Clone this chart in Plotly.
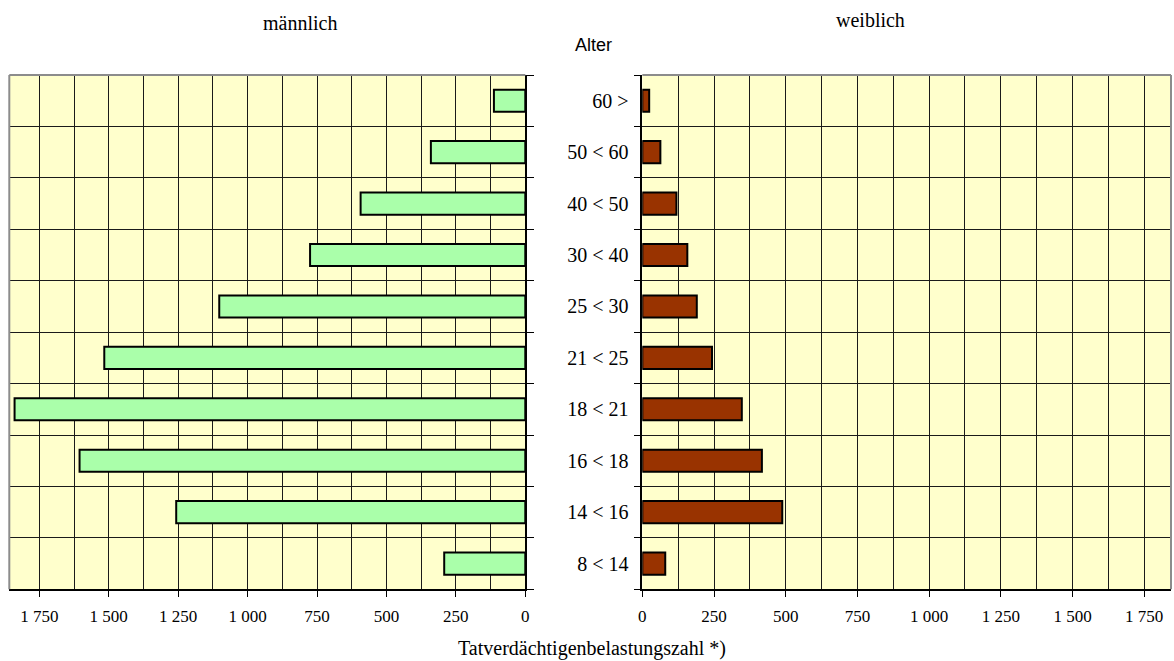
import plotly.graph_objects as go

# Altersgruppen (von unten nach oben)
age_groups = ["8 < 14", "14 < 16", "16 < 18", "18 < 21", "21 < 25",
              "25 < 30", "30 < 40", "40 < 50", "50 < 60", "60 >"]

# Tatverdächtigenbelastungszahl je Altersgruppe
male_values = [292, 1257, 1605, 1839, 1516, 1102, 775, 593, 340, 113]
female_values = [80, 488, 417, 347, 243, 190, 157, 119, 63, 24]

tick_values = [0, 250, 500, 750, 1000, 1250, 1500, 1750]
tick_labels = ["0", "250", "500", "750", "1 000", "1 250", "1 500", "1 750"]
minor_grid_values = [125, 375, 625, 875, 1125, 1375, 1625, 1875]

SERIF = "Liberation Serif, Times New Roman, serif"
SANS = "Liberation Sans, Arial, sans-serif"
BG = "#FFFFCC"
GRID = "#1a1a1a"
BORDER = "#8c8c8c"

W, H = 1174, 661

# pixel geometry of the two panels
left_px = (9.3, 525.3)
right_px = (642.3, 1171.0)
top_px, bottom_px = 75.0, 589.3

fig = go.Figure()

fig.add_trace(go.Bar(
    x=male_values, y=age_groups, orientation="h",
    xaxis="x", yaxis="y", width=0.43,
    marker=dict(color="#AAFFAA", line=dict(color="black", width=2)),
    showlegend=False, hoverinfo="x+y",
))
fig.add_trace(go.Bar(
    x=female_values, y=age_groups, orientation="h",
    xaxis="x2", yaxis="y2", width=0.43,
    marker=dict(color="#993300", line=dict(color="black", width=2)),
    showlegend=False, hoverinfo="x+y",
))

ydom = [1 - bottom_px / H, 1 - top_px / H]

common_x = dict(
    tickmode="array", tickvals=tick_values, ticktext=tick_labels,
    ticks="outside", ticklen=6, tickwidth=1, tickcolor="black",
    ticklabelstandoff=5,
    showgrid=True, gridcolor=GRID, gridwidth=1,
    minor=dict(tickmode="array", tickvals=minor_grid_values,
               showgrid=True, gridcolor=GRID, gridwidth=1, ticks=""),
    showline=True, linecolor="black", linewidth=1.5,
    zeroline=False, automargin=False,
    tickfont=dict(family=SERIF, size=17, color="black"),
    fixedrange=True,
)

fig.update_layout(
    width=W, height=H,
    margin=dict(l=0, r=0, t=0, b=0),
    paper_bgcolor="white", plot_bgcolor=BG,
    bargap=0.57,
    xaxis=dict(common_x, domain=[left_px[0] / W, left_px[1] / W],
               range=[(left_px[1] - left_px[0]) * 250 / 69.43, 0],
               anchor="y"),
    xaxis2=dict(common_x, domain=[right_px[0] / W, right_px[1] / W],
                range=[0, (right_px[1] - right_px[0]) * 250 / 71.7],
                anchor="y2"),
    yaxis=dict(domain=ydom, anchor="x", side="right",
               type="category", categoryorder="array", categoryarray=age_groups,
               range=[-0.5, len(age_groups) - 0.5],
               tickson="boundaries", ticks="outside", ticklen=7,
               tickcolor="black", showticklabels=False,
               showgrid=True, gridcolor=GRID, gridwidth=1,
               showline=True, linecolor="black", linewidth=1.5,
               zeroline=False, automargin=False, fixedrange=True),
    yaxis2=dict(domain=ydom, anchor="x2", side="left",
                type="category", categoryorder="array", categoryarray=age_groups,
                range=[-0.5, len(age_groups) - 0.5],
                tickson="boundaries", ticks="outside", ticklen=7,
                tickcolor="black", showticklabels=True, ticklabelstandoff=8,
                tickfont=dict(family=SERIF, size=20, color="black"),
                showgrid=True, gridcolor=GRID, gridwidth=1,
                showline=True, linecolor="black", linewidth=1.5,
                zeroline=False, automargin=False, fixedrange=True),
)

# grey outer frame lines (top/left of left panel, top/right of right panel)
def frame(x0, y0, x1, y1):
    fig.add_shape(type="line", xref="paper", yref="paper",
                  x0=x0 / W, y0=1 - y0 / H, x1=x1 / W, y1=1 - y1 / H,
                  line=dict(color=BORDER, width=2))

frame(left_px[0], top_px, left_px[1], top_px)
frame(left_px[0], top_px, left_px[0], bottom_px)
frame(right_px[0], top_px, right_px[1], top_px)
frame(right_px[1], top_px, right_px[1], bottom_px)

def text(s, x, y, family, size):
    fig.add_annotation(text=s, x=x / W, y=1 - y / H, xref="paper", yref="paper",
                       showarrow=False, xanchor="center", yanchor="middle",
                       font=dict(family=family, size=size, color="black"))

text("männlich", 300, 23, SERIF, 20)
text("weiblich", 870, 20, SERIF, 20)
text("Alter", 593, 45, SANS, 18)
text("Tatverdächtigenbelastungszahl *)", 592, 648, SERIF, 20)

fig.write_html("out.html")
